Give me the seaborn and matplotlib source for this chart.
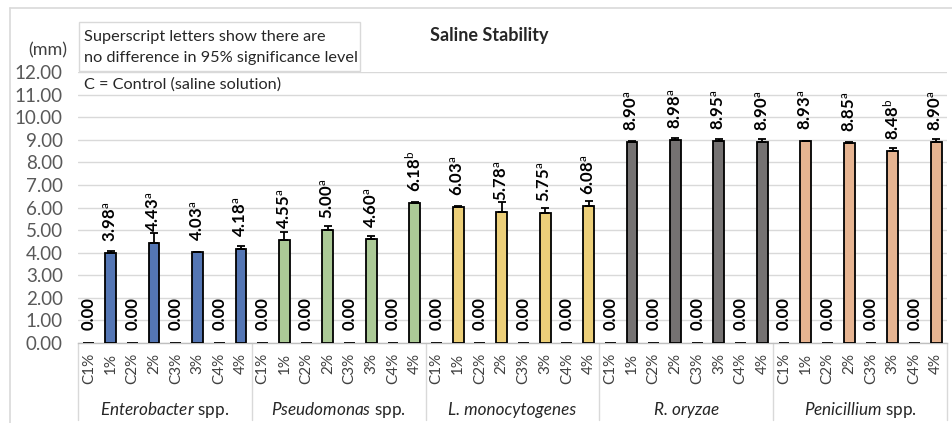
import numpy as np
import pandas as pd
import matplotlib
matplotlib.use("Agg")
import matplotlib.pyplot as plt
import matplotlib.transforms as mtransforms
from matplotlib.lines import Line2D
from matplotlib.patches import Rectangle
import seaborn as sns

# ---------------- data ----------------
groups = ["Enterobacter spp.", "Pseudomonas spp.", "L. monocytogenes", "R. oryzae", "Penicillium spp."]
conc_labels = ["C1%", "1%", "C2%", "2%", "C3%", "3%", "C4%", "4%"]

enterobacter = [0, 3.98, 0, 4.43, 0, 4.03, 0, 4.18]
pseudomonas = [0, 4.55, 0, 5.00, 0, 4.60, 0, 6.18]
listeria = [0, 6.03, 0, 5.78, 0, 5.75, 0, 6.08]
oryzae = [0, 8.90, 0, 8.98, 0, 8.95, 0, 8.90]
penicillium = [0, 8.93, 0, 8.85, 0, 8.48, 0, 8.90]

enterobacter_err = [0, 0.10, 0, 0.45, 0, 0.00, 0, 0.10]
pseudomonas_err = [0, 0.35, 0, 0.20, 0, 0.15, 0, 0.08]
listeria_err = [0, 0.03, 0, 0.48, 0, 0.22, 0, 0.22]
oryzae_err = [0, 0.05, 0, 0.08, 0, 0.08, 0, 0.12]
penicillium_err = [0, 0.03, 0, 0.05, 0, 0.15, 0, 0.12]

enterobacter_sig = ["", "a", "", "a", "", "a", "", "a"]
pseudomonas_sig = ["", "a", "", "a", "", "a", "", "b"]
listeria_sig = ["", "a", "", "a", "", "a", "", "a"]
oryzae_sig = ["", "a", "", "a", "", "a", "", "a"]
penicillium_sig = ["", "a", "", "a", "", "b", "", "a"]

colors = ["#4472C4", "#A9D18E", "#FFD966", "#767171", "#F4B183"]

yticks = [0, 1, 2, 3, 4, 5, 6, 7, 8, 9, 10, 11, 12]

values = [enterobacter, pseudomonas, listeria, oryzae, penicillium]
errors = [enterobacter_err, pseudomonas_err, listeria_err, oryzae_err, penicillium_err]
sigs = [enterobacter_sig, pseudomonas_sig, listeria_sig, oryzae_sig, penicillium_sig]

rows = []
for g, vals, errs, ss in zip(groups, values, errors, sigs):
    for lab, v, e, s in zip(conc_labels, vals, errs, ss):
        rows.append({"key": f"{g}|{lab}", "group": g, "label": lab,
                     "value": v, "err": e, "sig": s})
df = pd.DataFrame(rows)

# ---------------- style ----------------
sns.set_theme(style="white")
plt.rcParams["font.family"] = ["Lato", "DejaVu Sans"]
plt.rcParams["mathtext.fontset"] = "custom"
plt.rcParams["mathtext.rm"] = "Lato"
plt.rcParams["mathtext.it"] = "Lato:italic"
plt.rcParams["mathtext.bf"] = "Lato:bold"

W, H = 952, 423
fig = plt.figure(figsize=(W / 100, H / 100), dpi=100)
fig.patch.set_facecolor("white")
ax_left, ax_right, ax_y0, ax_y12 = 78, 947, 343, 72
ax = fig.add_axes([ax_left / W, (H - ax_y0) / H, (ax_right - ax_left) / W, (ax_y0 - ax_y12) / H])

sns.barplot(data=df, x="key", y="value", hue="group", order=list(df["key"]),
            hue_order=groups, palette=colors, dodge=False, width=0.5,
            edgecolor="black", linewidth=1.3, errorbar=None, legend=False, ax=ax,
            zorder=3)

xs = np.arange(len(df))
# error bars (plus direction)
mask = df["value"].values > 0
ax.errorbar(xs[mask], df["value"].values[mask],
            yerr=[np.zeros(mask.sum()), df["err"].values[mask]],
            fmt="none", ecolor="black", elinewidth=1.3, capsize=3.2, capthick=1.3, zorder=4)

ax.set_ylim(0, 12)
ax.set_xlim(-0.5, len(df) - 0.5)
ax.set_yticks(yticks)
ax.set_yticklabels([f"{t:.2f}" for t in yticks], fontsize=13.5, color="#595959")
ax.set_xticks(xs)
ax.set_xticklabels(df["label"], rotation=90, fontsize=11, color="#404040")
ax.tick_params(axis="x", length=0, pad=7)
ax.tick_params(axis="y", length=0, pad=11)
ax.set_xlabel("")
ax.set_ylabel("")
ax.yaxis.grid(True, color="#D9D9D9", linewidth=1.0, zorder=0)
ax.set_axisbelow(True)
for s in ["top", "right", "left"]:
    ax.spines[s].set_visible(False)
ax.spines["bottom"].set_color("#BFBFBF")
ax.spines["bottom"].set_linewidth(1.0)

# value labels
for x, row in zip(xs, df.itertuples()):
    if row.value > 0:
        txt = f"{row.value:.2f}" + r"$^{\mathrm{" + row.sig + r"}}$"
        ax.annotate(txt, (x, row.value), xytext=(0, 8), textcoords="offset points",
                    rotation=90, ha="center", va="bottom", fontsize=12,
                    fontweight="bold", color="black", zorder=5)
    else:
        ax.annotate("0.00", (x, 0), xytext=(0, 9.4), textcoords="offset points",
                    rotation=90, ha="center", va="bottom", fontsize=12,
                    fontweight="bold", color="black", zorder=5)

# group labels and separators
trans = mtransforms.blended_transform_factory(ax.transData, ax.transAxes)
ax_h = ax_y0 - ax_y12
for i, g in enumerate(groups):
    cx = i * 8 + 3.5
    if g.endswith(" spp."):
        name = g[:-5]
        lab = r"$\mathit{" + name + r"}$ spp."
        ax.text(cx, -67 / ax_h, lab, transform=trans, ha="center", va="center",
                fontsize=12.3, color="#262626")
    else:
        ax.text(cx, -67 / ax_h, g, transform=trans, ha="center", va="center",
                fontsize=12.3, style="italic", color="#262626")
for b in range(len(groups) + 1):
    ax.add_line(Line2D([b * 8 - 0.5, b * 8 - 0.5], [0, -77 / ax_h], transform=trans,
                       color="#D9D9D9", linewidth=1.0, clip_on=False))

# title and annotations (figure pixel coordinates)
def fx(px):
    return px / W

def fy(py):
    return 1 - py / H

fig.text(fx(489), fy(35), "Saline Stability", ha="center", va="center",
         fontsize=13, fontweight="bold", color="#262626")
fig.text(fx(48), fy(50), "(mm)", ha="center", va="center", fontsize=13, color="#404040")
fig.add_artist(Rectangle((fx(79), fy(71)), fx(360) - fx(79), fy(22) - fy(71),
                         transform=fig.transFigure, facecolor="white",
                         edgecolor="#D9D9D9", linewidth=1.0))
fig.text(fx(84), fy(37), "Superscript letters show there are", ha="left", va="center",
         fontsize=11.7, color="#262626")
fig.text(fx(84), fy(58), "no difference in 95% significance level", ha="left", va="center",
         fontsize=11.7, color="#262626")
fig.text(fx(84), fy(85), "C = Control (saline solution)", ha="left", va="center",
         fontsize=11.7, color="#262626")

# outer chart border
fig.add_artist(Line2D([fx(10), fx(10)], [fy(8), 0], transform=fig.transFigure,
                      color="#D9D9D9", linewidth=1.2))
fig.add_artist(Line2D([fx(10), 1], [fy(8), fy(8)], transform=fig.transFigure,
                      color="#D9D9D9", linewidth=1.2))

fig.savefig("out.png", dpi=100, facecolor="white")
